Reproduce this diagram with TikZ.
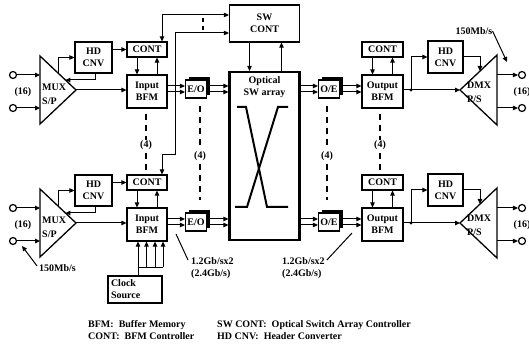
\documentclass[tikz,border=0pt]{standalone}
\usepackage{fontspec}
\setmainfont{Liberation Serif}
\usetikzlibrary{arrows.meta,shadows}
\begin{document}
\begin{tikzpicture}[x=1pt,y=-1pt,
  >={Triangle[length=5pt,width=4.5pt]},
  box/.style={draw,line width=1.2pt,inner sep=0pt,align=center,fill=white,
     font=\fontsize{10}{12}\selectfont\bfseries},
  oebox/.style={box,minimum width=21pt,minimum height=18pt,
     drop shadow={shadow xshift=3pt,shadow yshift=3pt,fill=black,opacity=1}},
  lab/.style={inner sep=0pt,font=\fontsize{10}{12}\selectfont\bfseries},
  conn/.style={line width=1pt,->},
  biconn/.style={line width=1pt,<->},
  wire/.style={line width=1pt},
  dashfour/.style={line width=1.5pt,dash pattern=on 6pt off 5pt},
  term/.style={circle,draw,line width=1.2pt,minimum size=7pt,inner sep=0pt},
  tri/.style={line width=1.3pt,line join=miter},
]
\useasboundingbox (0,0) rectangle (529,352);

% central switch
\node[box,line width=2.2pt,minimum width=70pt,minimum height=168pt] (sw) at (264.5,156) {};
\node[lab,align=center] (swtxt) at (264.5,87.5) {Optical\\SW array};
\draw[line width=2pt] (237,107) -- (246,107) -- (267,207) -- (288,207);
\draw[line width=2pt] (288,107) -- (278,107) -- (247,207) -- (235,207);
\node[box,minimum width=70pt,minimum height=37pt] (swc) at (264.5,23.5) {SW\\CONT};
\draw[conn] ([xshift=-15pt]swc.south) -- ([xshift=-15pt]sw.north);
\draw[conn] ([xshift=17pt]sw.north) -- ([xshift=17pt]swc.south);

\foreach \rw/\dy in {T/0,B/133}{
  \coordinate (ua\rw) at (0,{86+\dy});
  \coordinate (ub\rw) at (0,{92+\dy});
  % inputs and MUX
  \node[term] (inA\rw) at (13,{75+\dy}) {};
  \node[term] (inB\rw) at (13,{108+\dy}) {};
  \node[lab] (nin\rw) at (23,{92+\dy}) {(16)};
  \draw[tri] (40,{56+\dy}) -- (76,{90+\dy}) coordinate (mux\rw) -- (40,{124+\dy}) -- cycle;
  \node[lab,anchor=west] (muxa\rw) at (42,{87+\dy}) {MUX};
  \node[lab,anchor=west] (muxb\rw) at (42,{101+\dy}) {S/P};
  \coordinate (mA\rw) at (40,{75+\dy});
  \coordinate (mB\rw) at (40,{108+\dy});
  \draw[conn] (inA\rw) -- (mA\rw);
  \draw[conn] (inB\rw) -- (mB\rw);
  % input HD CNV
  \node[box,minimum width=37pt,minimum height=31pt] (hdi\rw) at (93.5,{57.5+\dy}) {HD\\CNV};
  \coordinate (hf\rw) at (58,{73+\dy});
  \draw[conn] (hf\rw) |- (hdi\rw.west);
  \coordinate (hb\rw) at (65.4,{80+\dy});
  \draw[conn] ([xshift=1.5pt]hdi\rw.south) |- (hb\rw);
  % input CONT and BFM
  \node[box,minimum width=40pt,minimum height=15pt] (ci\rw) at (147,{49.5+\dy}) {CONT};
  \draw[conn] (hdi\rw.east |- ci\rw) -- (ci\rw.west);
  \node[box,minimum width=40pt,minimum height=33pt] (bi\rw) at (147,{91.5+\dy}) {Input\\BFM};
  \draw[conn] (mux\rw) -- (mux\rw -| bi\rw.west);
  \draw[conn] ([xshift=-10pt]ci\rw.south) -- ([xshift=-10pt]bi\rw.north);
  \draw[conn] ([xshift=10pt]bi\rw.north) -- ([xshift=10pt]ci\rw.south);
  % E/O
  \node[oebox] (eo\rw) at (196,{89+\dy}) {E/O};
  \draw[conn] (bi\rw.east |- ua\rw) -- (eo\rw.west |- ua\rw);
  \draw[conn] (bi\rw.east |- ub\rw) -- (eo\rw.west |- ub\rw);
  \draw[conn] (eo\rw.east |- ua\rw) -- (sw.west |- ua\rw);
  \draw[conn] (eo\rw.east |- ub\rw) -- (sw.west |- ub\rw);
  % O/E
  \node[oebox] (oe\rw) at (329,{89+\dy}) {O/E};
  \draw[conn] (sw.east |- ua\rw) -- (oe\rw.west |- ua\rw);
  \draw[conn] (sw.east |- ub\rw) -- (oe\rw.west |- ub\rw);
  % output BFM and CONT
  \node[box,minimum width=41pt,minimum height=33pt] (bo\rw) at (382.5,{91.5+\dy}) {Output\\BFM};
  \draw[conn] (oe\rw.east |- ua\rw) -- (bo\rw.west |- ua\rw);
  \draw[conn] (oe\rw.east |- ub\rw) -- (bo\rw.west |- ub\rw);
  \node[box,minimum width=41pt,minimum height=15pt] (co\rw) at (382.5,{49.5+\dy}) {CONT};
  \draw[conn] ([xshift=-10pt]co\rw.south) -- ([xshift=-10pt]bo\rw.north);
  \draw[conn] ([xshift=10pt]bo\rw.north) -- ([xshift=10pt]co\rw.south);
  % output HD CNV and DMX
  \node[box,minimum width=35pt,minimum height=32pt] (hdo\rw) at (445.5,{57+\dy}) {HD\\CNV};
  \draw[tri] (460,{90+\dy}) coordinate (dmx\rw) -- (497,{55+\dy}) -- (497,{125+\dy}) -- cycle;
  \node[lab,anchor=west] (dmxa\rw) at (467,{85+\dy}) {DMX};
  \node[lab,anchor=west] (dmxb\rw) at (467,{99+\dy}) {P/S};
  \coordinate (jn\rw) at (411,{90+\dy});
  \draw[conn] (bo\rw.east |- jn\rw) -- (dmx\rw);
  \fill (jn\rw) circle (1.7);
  \draw[conn] (jn\rw) |- (hdo\rw.west);
  \coordinate (dh\rw) at (480,{71+\dy});
  \draw[conn] (hdo\rw.east) -| (dh\rw);
  \node[term] (oA\rw) at (522,{75+\dy}) {};
  \node[term] (oB\rw) at (522,{108+\dy}) {};
  \coordinate (dA\rw) at (497,{75+\dy});
  \coordinate (dB\rw) at (497,{108+\dy});
  \draw[conn] (dA\rw) -- (oA\rw);
  \draw[conn] (dB\rw) -- (oB\rw);
  \node[lab] (nout\rw) at (522,{92+\dy}) {(16)};
}

% (4) dashed columns
\node[lab] (q1) at (146,145) {(4)};
\draw[dashfour,shorten <=5pt] (biT.south -| q1) -- (q1.north);
\draw[dashfour,shorten <=3pt,shorten >=3pt] (q1.south) -- (ciB.north -| q1);
\node[lab] (q2) at (200,156) {(4)};
\draw[dashfour,shorten <=7pt,shorten >=2pt] (eoT.south -| q2) -- (q2.north);
\draw[dashfour,shorten <=3pt,shorten >=12pt] (q2.south) -- (eoB.north -| q2);
\node[lab] (q3) at (327,156) {(4)};
\draw[dashfour,shorten <=7pt,shorten >=2pt] (oeT.south -| q3) -- (q3.north);
\draw[dashfour,shorten <=3pt,shorten >=12pt] (q3.south) -- (oeB.north -| q3);
\node[lab] (q4) at (380,145) {(4)};
\draw[dashfour,shorten <=5pt] (boT.south -| q4) -- (q4.north);
\draw[dashfour,shorten <=3pt,shorten >=3pt] (q4.south) -- (coB.north -| q4);

% dots between SW CONT inputs
\draw[line width=1.3pt] (203,18) -- (203,22);
\draw[line width=1.3pt] (203,26) -- (203,30);

% CONT to SW CONT links
\coordinate (s1) at (162,15);
\draw[biconn] ([xshift=15pt]ciT.north) |- (swc.west |- s1);
\coordinate (s2) at (175,155);
\coordinate (s3) at (175,33);
\draw[biconn] ([xshift=15pt]ciB.north) |- (s2) -- (s3) -- (swc.west |- s3);

% clock source
\node[box,minimum width=54pt,minimum height=27pt,text width=48pt,align=left] (clk) at (135,289.5) {Clock\\Source};
\coordinate (k1) at (138,267);
\coordinate (k2) at (146.5,267);
\coordinate (k3) at (155,267);
\coordinate (k4) at (163,267);
\draw[conn] (clk.north -| k1) -- (biB.south -| k1);
\draw[wire] (k1) -- (k4);
\foreach \k in {k2,k3,k4} \draw[conn] (\k) -- (biB.south -| \k);

% rate labels
\node[lab,anchor=west] (rin) at (39,268) {150Mb/s};
\coordinate (rinT) at (22,246);
\draw[conn] ([xshift=-2pt,yshift=2pt]rin.west) -- (rinT);
\node[lab] (rout) at (474,31) {150Mb/s};
\coordinate (routT) at (507,62);
\draw[conn] (rout.east) -- (routT);

\node[lab,anchor=north west,align=left] (rl) at (191,257) {1.2Gb/sx2\\(2.4Gb/s)};
\coordinate (rlT) at (176,234);
\draw[wire] ([xshift=-3pt,yshift=-3pt]rl.north west) -- (rlT);
\node[lab,anchor=north west,align=left] (rr) at (282,257) {1.2Gb/sx2\\(2.4Gb/s)};
\coordinate (rrT) at (352,233);
\draw[wire] ([xshift=2pt,yshift=-3pt]rr.north east) -- (rrT);

% legend
\node[lab,anchor=base west] (lg1) at (88,327) {BFM:\ \ Buffer Memory};
\node[lab,anchor=base west] (lg2) at (88,339) {CONT:\ \ BFM Controller};
\node[lab,anchor=base west] (lg3) at (217,327) {SW CONT:\ \ Optical Switch Array Controller};
\node[lab,anchor=base west] (lg4) at (217,339) {HD CNV:\ \ Header Converter};
\end{tikzpicture}
\end{document}
